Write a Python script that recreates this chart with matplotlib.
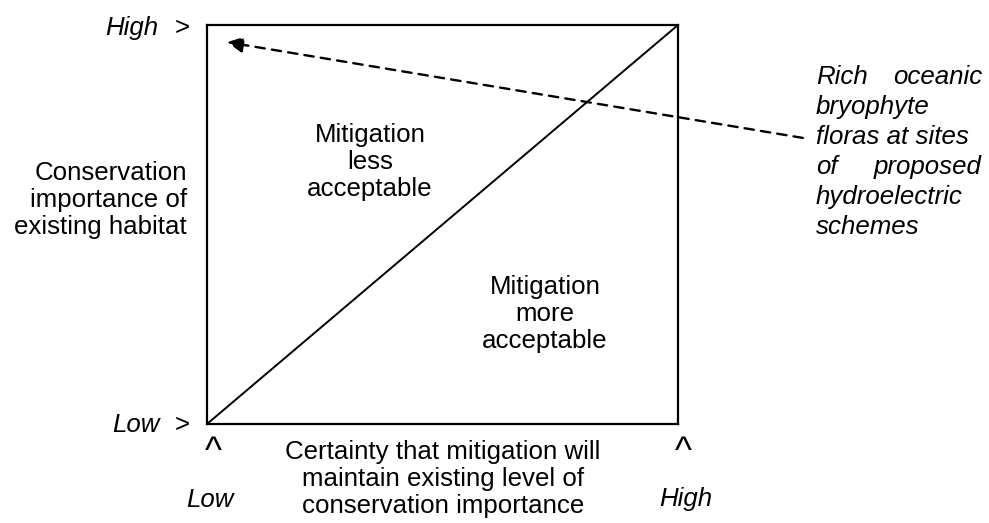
import matplotlib.pyplot as plt

plt.rcParams['font.family'] = ['Liberation Sans', 'DejaVu Sans']

W, H = 989, 523

# diagram content
axis_levels = ['Low', 'High']
y_label = 'Conservation\nimportance of\nexisting habitat'
x_label = 'Certainty that mitigation will\nmaintain existing level of\nconservation importance'
upper_region = 'Mitigation\nless\nacceptable'
lower_region = 'Mitigation\nmore\nacceptable'
note_lines = [('Rich', 'oceanic'), ('bryophyte', ''), ('floras at sites', ''),
              ('of', 'proposed'), ('hydroelectric', ''), ('schemes', '')]

# the dividing line runs corner to corner in the concept space
diag_x = [0, 1]
diag_y = [0, 1]
# the case study sits off the chart, pointing at the high/high corner
note_from = (1.265, 0.717)
note_to = (0.0425, 0.957)

fs = 18.6
ls = 1.14

fig = plt.figure(figsize=(W / 100, H / 100), dpi=100)


def px(x, y):
    return x / W, 1 - y / H


left, top, right, bottom = 207, 25, 678, 424
ax = fig.add_axes([left / W, 1 - bottom / H, (right - left) / W, (bottom - top) / H])
ax.set_xlim(0, 1)
ax.set_ylim(0, 1)
ax.set_xticks([])
ax.set_yticks([])
for s in ax.spines.values():
    s.set_linewidth(1.6)
    s.set_color('black')

ax.plot(diag_x, diag_y, color='black', lw=1.4, solid_capstyle='butt')

ax.annotate('', xy=note_to, xytext=note_from, xycoords='axes fraction',
            textcoords='axes fraction', annotation_clip=False,
            arrowprops=dict(arrowstyle='-|>', linestyle=(0, (4, 3)), lw=1.7,
                            color='black', mutation_scale=24, shrinkA=0, shrinkB=0))

# region labels
fig.text(*px(370, 162), upper_region, ha='center', va='center', fontsize=fs, linespacing=ls)
fig.text(*px(545, 314), lower_region, ha='center', va='center', fontsize=fs, linespacing=ls)

# y axis
fig.text(*px(187, 200), y_label, ha='right', va='center', fontsize=fs, linespacing=ls)
fig.text(*px(158, 28), axis_levels[1], ha='right', va='center', fontsize=fs, style='italic')
fig.text(*px(175, 28), '>', ha='left', va='center', fontsize=fs)
fig.text(*px(160, 425), axis_levels[0], ha='right', va='center', fontsize=fs, style='italic')
fig.text(*px(175, 425), '>', ha='left', va='center', fontsize=fs)

# x axis
fig.text(*px(213, 453), '^', ha='center', va='center', fontsize=fs * 1.4)
fig.text(*px(683, 453), '^', ha='center', va='center', fontsize=fs * 1.4)
fig.text(*px(210, 500), axis_levels[0], ha='center', va='center', fontsize=fs, style='italic')
fig.text(*px(686, 499), axis_levels[1], ha='center', va='center', fontsize=fs, style='italic')
fig.text(*px(443, 479), x_label, ha='center', va='center', fontsize=fs, linespacing=ls)

# justified note on the right
nx0, nx1 = 816, 982
for i, (a, b) in enumerate(note_lines):
    y = 77 + i * 30
    fig.text(*px(nx0, y), a, ha='left', va='center', fontsize=fs, style='italic')
    if b:
        fig.text(*px(nx1, y), b, ha='right', va='center', fontsize=fs, style='italic')

fig.savefig('out.png', dpi=100)
